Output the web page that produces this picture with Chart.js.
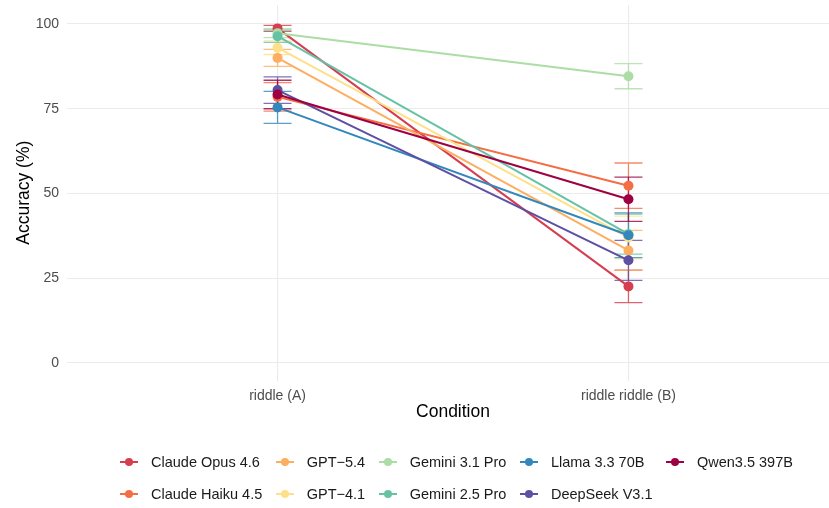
<!DOCTYPE html>
<html>
<head>
<meta charset="utf-8">
<script src="https://cdn.jsdelivr.net/npm/chart.js@4"></script>
<style>
  html, body { margin: 0; padding: 0; background: #fff; overflow: hidden; }
  #wrap { position: relative; width: 829px; height: 508px; overflow: hidden; font-family: "Liberation Sans", Arial, sans-serif; }
  #legend { position: absolute; left: 120px; top: 446px; display: grid; grid-template-rows: 32px 32px; grid-auto-flow: column; column-gap: 13.5px; font-size: 14.5px; color: #1a1a1a; }
  .item { display: flex; align-items: center; white-space: nowrap; }
  .key { position: relative; width: 18px; height: 14px; margin-right: 13px; }
  .key .ln { position: absolute; left: 0; right: 0; top: 6px; height: 2px; }
  .key .dot { position: absolute; left: 5px; top: 3px; width: 8px; height: 8px; border-radius: 50%; }
</style>
</head>
<body>
<div id="wrap">
  <canvas id="chart" width="844" height="508"></canvas>
  <div id="legend"></div>
</div>
<script>
// conditions on the x axis
const conditions = ["riddle (A)", "riddle riddle (B)"];
const models = ["Claude Opus 4.6", "Claude Haiku 4.5", "GPT\u22125.4", "GPT\u22124.1",
                "Gemini 3.1 Pro", "Gemini 2.5 Pro", "Llama 3.3 70B", "DeepSeek V3.1", "Qwen3.5 397B"];
// mean accuracy (%) per model, one array per condition
const accA = [98.7, 78.5, 90.0, 93.0, 97.3, 96.4, 75.4, 80.5, 79.2];
const accB = [22.6, 52.3, 33.2, 37.0, 84.6, 38.0, 37.7, 30.3, 48.3];
// error bar half-widths
const errA = [0.9, 4.2, 2.5, 2.0, 1.3, 1.8, 4.7, 3.9, 4.2];
const errB = [4.8, 6.7, 5.9, 6.3, 3.7, 5.9, 6.6, 5.9, 6.5];
const yTicks = [0, 25, 50, 75, 100];

const colors = ["#D53E4F", "#F46D43", "#FDAE61", "#FEE08B", "#ABDDA4",
                "#66C2A5", "#3288BD", "#5E4FA2", "#9E0142"];

const accs = [accA, accB];
const errs = [errA, errB];

const datasets = models.map((m, k) => ({
    label: m,
    data: conditions.map((c, i) => ({ x: i + 1, y: accs[i][k], err: errs[i][k] })),
    borderColor: colors[k],
    backgroundColor: colors[k],
    pointBackgroundColor: colors[k],
    pointBorderWidth: 0,
    pointRadius: 5,
    borderWidth: 2,
    showLine: true,
    tension: 0,
    order: models.length - k
}));

// vertical error bars with caps, drawn under the points
const errorBars = {
    id: "errorBars",
    beforeDatasetsDraw(chart) {
        const ctx = chart.ctx;
        const xs = chart.scales.x, ys = chart.scales.y;
        ctx.save();
        ctx.globalAlpha = 0.8;
        ctx.lineWidth = 1.3;
        chart.data.datasets.forEach(ds => {
            ctx.strokeStyle = ds.borderColor;
            ds.data.forEach(p => {
                const px = xs.getPixelForValue(p.x);
                const top = ys.getPixelForValue(p.y + p.err);
                const bot = ys.getPixelForValue(p.y - p.err);
                ctx.beginPath();
                ctx.moveTo(px, top); ctx.lineTo(px, bot);
                ctx.moveTo(px - 14, top); ctx.lineTo(px + 14, top);
                ctx.moveTo(px - 14, bot); ctx.lineTo(px + 14, bot);
                ctx.stroke();
            });
        });
        ctx.restore();
    }
};

new Chart(document.getElementById("chart"), {
    type: "scatter",
    data: { datasets },
    plugins: [errorBars],
    options: {
        responsive: false,
        animation: false,
        layout: { padding: { top: 5, right: 1, bottom: 85, left: 0 } },
        plugins: { legend: { display: false }, tooltip: { enabled: false } },
        scales: {
            x: {
                type: "linear",
                min: 0.4, max: 2.6,
                afterBuildTicks: s => { s.ticks = conditions.map((c, i) => ({ value: i + 1 })); },
                afterFit: s => { s.height = 42.5; s.paddingLeft = 0; s.paddingRight = 0; },
                ticks: {
                    callback: v => conditions[v - 1],
                    color: "#4d4d4d",
                    font: { family: "Liberation Sans", size: 14 },
                    padding: 7,
                    autoSkip: false,
                    maxRotation: 0
                },
                grid: { color: "#ebebeb", lineWidth: 1.1, drawTicks: false },
                border: { display: false },
                title: { display: true, text: "Condition", color: "#000",
                         font: { family: "Liberation Sans", size: 17.5 }, padding: 0 }
            },
            y: {
                min: -5.16, max: 105.6,
                afterBuildTicks: s => { s.ticks = yTicks.map(v => ({ value: v })); },
                afterFit: s => { s.width = 67; s.paddingTop = 0; s.paddingBottom = 0; },
                ticks: { color: "#4d4d4d", font: { family: "Liberation Sans", size: 14 }, padding: 8 },
                grid: { color: "#ebebeb", lineWidth: 1.1, drawTicks: false },
                border: { display: false },
                title: { display: true, text: "Accuracy (%)", color: "#000",
                         font: { family: "Liberation Sans", size: 17.5 }, padding: { top: 14, bottom: 0 } }
            }
        }
    }
});

// legend, filled column by column like the original
const legend = document.getElementById("legend");
models.forEach((m, k) => {
    const item = document.createElement("div");
    item.className = "item";
    item.innerHTML = `<span class="key"><span class="ln" style="background:${colors[k]}"></span>` +
                     `<span class="dot" style="background:${colors[k]}"></span></span><span></span>`;
    item.lastChild.textContent = m;
    legend.appendChild(item);
});
</script>
</body>
</html>
